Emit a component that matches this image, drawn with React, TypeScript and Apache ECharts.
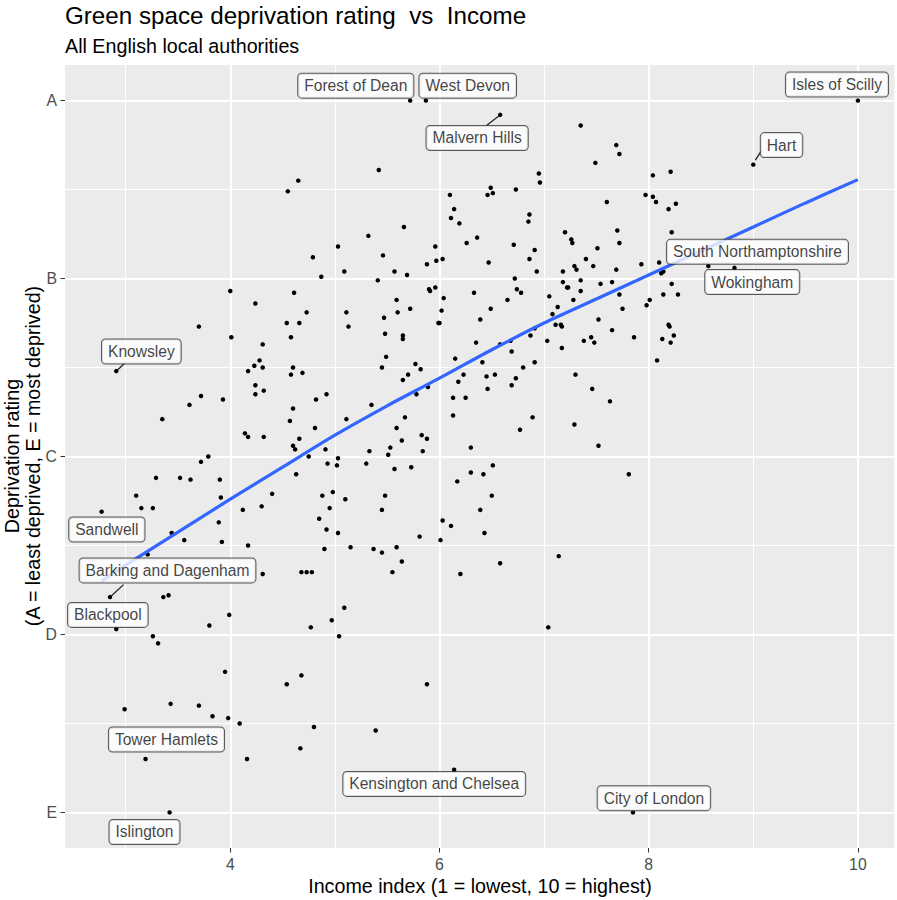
import React, { useEffect, useRef } from "react";
import * as echarts from "echarts";

// ---------- data ----------
const incomeTicks = [4, 6, 8, 10];
const ratingValues = [1, 2, 3, 4, 5];
const ratingLetters = ["E", "D", "C", "B", "A"];

// [income index, deprivation rating (E = 1 ... A = 5)]
const authorities: [number, number][] = [
  [4.65, 4.55], [4.55, 4.49], [5.03, 4.18], [4.79, 4.12], [4.87, 4.01], [4.0, 3.93], [4.61, 3.92], [4.24, 3.86],
  [4.73, 3.81], [4.54, 3.75], [4.66, 3.75], [3.7, 3.73],
  [4.01, 3.67], [4.58, 3.67], [4.31, 3.63], [4.28, 3.54], [4.23, 3.51], [4.31, 3.5], [4.17, 3.48], [4.6, 3.5],
  [4.58, 3.46], [4.69, 3.47], [4.24, 3.4], [4.32, 3.37], [4.24, 3.35], [3.72, 3.34], [3.93, 3.32], [3.61, 3.29],
  [4.82, 3.32], [4.92, 3.35], [4.6, 3.27], [3.35, 3.21], [4.57, 3.2], [4.81, 3.16], [4.14, 3.13], [4.17, 3.11],
  [4.32, 3.11], [4.66, 3.1], [4.6, 3.06], [4.62, 3.04], [4.91, 3.04], [3.79, 3.0], [3.72, 2.97], [4.75, 3.0],
  [5.03, 2.99], [4.93, 2.96], [5.02, 2.95], [4.63, 2.9], [3.29, 2.88], [3.52, 2.88], [3.62, 2.87], [3.9, 2.87],
  [3.1, 2.78], [3.91, 2.77], [4.4, 2.79], [4.98, 2.8], [4.88, 2.78], [3.15, 2.71], [3.26, 2.71], [2.77, 2.69],
  [4.12, 2.7], [4.3, 2.72], [4.95, 2.71], [3.89, 2.63], [4.85, 2.65], [4.92, 2.59], [5.03, 2.57], [3.44, 2.57],
  [3.56, 2.53], [3.92, 2.52], [4.17, 2.5], [4.9, 2.48], [3.21, 2.45], [4.31, 2.34], [4.68, 2.35], [4.73, 2.35],
  [4.78, 2.35], [2.91, 3.48],
  [2.85, 2.21], [3.36, 2.21], [3.41, 2.22], [3.99, 2.11], [3.8, 2.05], [2.91, 2.03], [4.77, 2.04], [4.97, 2.08],
  [5.04, 1.99], [3.26, 1.99], [3.31, 1.95], [3.95, 1.79], [4.68, 1.77], [4.54, 1.72], [2.99, 1.58], [3.43, 1.61],
  [3.7, 1.6], [3.83, 1.54], [3.98, 1.53], [4.09, 1.5], [4.8, 1.48], [4.67, 1.36], [3.19, 1.3], [4.16, 1.3],
  [3.42, 1.0], [5.09, 2.15], [7.04, 2.04], [5.88, 1.72], [5.39, 1.46], [6.14, 1.24], [7.85, 1.0],
  [5.13, 3.73], [5.48, 3.69], [5.65, 3.68], [5.65, 3.66], [5.99, 3.75], [6.0, 3.75], [6.39, 3.77], [6.35, 3.64],
  [5.49, 3.56], [5.45, 3.5], [5.77, 3.52], [5.82, 3.49], [5.65, 3.43], [5.7, 3.46], [6.15, 3.55], [6.41, 3.53],
  [6.23, 3.46], [6.18, 3.42], [6.45, 3.45], [6.53, 3.46], [6.46, 3.38], [5.89, 3.39], [5.78, 3.35], [6.13, 3.33],
  [6.25, 3.33], [5.35, 3.29], [5.11, 3.21], [5.67, 3.22], [6.13, 3.23], [5.59, 3.16], [5.83, 3.12], [5.88, 3.1],
  [5.64, 3.09], [5.53, 3.05], [5.33, 3.03], [5.51, 3.01], [5.84, 3.03], [6.3, 3.05], [5.3, 2.96], [5.57, 2.93],
  [5.73, 2.94], [6.51, 2.95], [6.3, 2.91], [6.42, 2.9], [6.17, 2.86], [5.1, 2.76], [5.48, 2.78], [5.45, 2.7],
  [6.5, 2.78], [6.39, 2.7], [6.03, 2.64], [6.11, 2.61], [6.43, 2.57], [5.81, 2.55], [6.01, 2.53], [5.15, 2.49],
  [5.37, 2.48], [5.45, 2.46], [5.59, 2.49], [5.64, 2.41], [5.55, 2.35], [6.2, 2.34], [6.58, 2.4], [7.14, 2.44],
  [6.68, 3.65], [6.69, 3.59], [6.58, 3.63], [6.87, 3.68], [6.91, 3.72], [7.03, 3.65], [7.11, 3.74], [7.16, 3.74],
  [7.17, 3.73], [7.17, 3.61], [7.52, 3.77], [7.38, 3.65], [7.45, 3.67], [7.48, 3.64], [6.91, 3.53], [6.8, 3.5],
  [6.73, 3.44], [6.69, 3.4], [7.3, 3.46], [7.46, 3.38], [7.63, 3.31], [6.89, 3.22], [6.77, 3.15], [7.29, 3.18],
  [7.52, 3.06],
  [7.65, 3.71], [7.86, 3.67], [8.19, 3.74], [8.2, 3.73], [8.24, 3.68], [8.13, 3.66], [8.21, 3.64], [8.08, 3.54],
  [7.81, 2.9],
  [5.72, 5.0], [5.87, 5.0], [6.58, 4.92], [7.35, 4.86], [7.49, 4.65], [5.42, 4.61], [6.95, 4.59], [6.96, 4.54],
  [6.49, 4.51], [6.46, 4.47], [6.51, 4.48], [6.73, 4.5], [6.1, 4.47], [7.6, 4.43], [6.14, 4.39], [6.11, 4.34],
  [6.19, 4.31], [6.86, 4.36], [6.85, 4.32], [5.66, 4.29], [5.32, 4.24], [7.2, 4.26], [7.26, 4.22], [7.27, 4.2],
  [5.96, 4.18], [6.26, 4.2], [6.36, 4.23], [6.71, 4.19], [7.51, 4.17], [5.46, 4.13], [6.91, 4.16], [5.97, 4.1],
  [6.03, 4.11], [5.88, 4.08], [6.47, 4.09], [6.86, 4.11], [7.4, 4.11], [7.47, 4.07], [7.29, 4.07], [7.31, 4.05],
  [5.09, 4.04], [5.57, 4.04], [5.69, 4.02], [6.93, 4.04], [7.18, 4.04], [5.41, 3.99], [6.72, 4.0], [7.35, 3.99],
  [7.54, 3.97], [7.18, 3.98], [7.22, 3.95], [7.23, 3.95], [7.35, 3.93], [5.9, 3.94], [5.91, 3.93], [5.96, 3.95],
  [6.74, 3.94], [6.78, 3.92], [6.33, 3.92], [7.05, 3.9], [6.04, 3.89], [5.59, 3.88], [5.6, 3.81], [5.72, 3.83],
  [6.65, 3.88], [7.28, 3.88], [7.13, 3.84], [6.49, 3.83], [6.02, 3.82], [5.11, 3.81], [5.47, 3.78], [7.08, 3.8],
  [10.0, 5.0], [9.0, 4.64], [7.69, 4.75], [7.72, 4.7], [8.04, 4.58], [8.21, 4.6], [7.97, 4.47], [8.04, 4.46],
  [8.07, 4.43], [8.19, 4.39], [8.26, 4.42], [7.7, 4.27], [8.22, 4.26], [7.72, 4.2], [7.93, 4.08], [8.1, 4.09],
  [8.12, 4.03], [8.14, 4.04], [8.57, 4.07], [8.82, 4.06], [7.69, 4.05], [7.65, 3.98], [8.22, 3.97], [7.72, 3.91],
  [8.14, 3.91], [8.28, 3.91], [8.01, 3.88], [7.98, 3.85], [7.75, 3.83],
];

// loess smooth
const smoothIncome = [2.77, 3.0, 3.5, 4.0, 4.5, 5.0, 5.5, 6.0, 6.5, 7.0, 7.5, 8.0, 8.5, 9.0, 9.5, 10.0];
const smoothRating = [2.3, 2.39, 2.575, 2.76, 2.94, 3.12, 3.285, 3.44, 3.6, 3.75, 3.885, 4.02, 4.155, 4.29, 4.425, 4.556];

const labelledNames = [
  "Forest of Dean", "West Devon", "Malvern Hills", "Isles of Scilly", "Hart", "South Northamptonshire",
  "Wokingham", "Knowsley", "Sandwell", "Barking and Dagenham", "Blackpool", "Tower Hamlets", "Islington",
  "Kensington and Chelsea", "City of London",
];

// ---------- layout (label box centres and leader lines, in axis units) ----------
const labelPlacement: [number, number][] = [
  [5.2, 5.084], [6.27, 5.084], [6.36, 4.79], [9.8, 5.09], [9.27, 4.75], [9.04, 4.15],
  [8.99, 3.98], [3.15, 3.59], [2.82, 2.59], [3.4, 2.36], [2.83, 2.11], [3.39, 1.41], [3.18, 0.89],
  [5.95, 1.16], [8.05, 1.08],
];
const leaderLines: [number, number][][] = [
  [[6.45, 4.86], [6.57, 4.915]],
  [[9.08, 4.72], [9.02, 4.665]],
  [[3.0, 3.53], [2.92, 3.485]],
  [[2.98, 2.28], [2.86, 2.215]],
];

const FONT = "'Liberation Sans', Arial, Helvetica, sans-serif";
const X_MIN = 2.42;
const X_MAX = 10.35;
const Y_MIN = 0.8;
const Y_MAX = 5.2;

export default function App() {
  const ref = useRef<HTMLDivElement>(null);

  useEffect(() => {
    if (!ref.current) return;
    const chart = echarts.init(ref.current, null, { renderer: "svg" });

    const gridLine = (axis: "xAxis" | "yAxis", v: number, major: boolean) => ({
      [axis]: v,
      lineStyle: { color: "#ffffff", width: major ? 2 : 1, type: "solid", opacity: 1 },
    });
    const minorX = [3, 5, 7, 9];
    const minorY = [1.5, 2.5, 3.5, 4.5];

    const option: any = {
      animation: false,
      backgroundColor: "#ffffff",
      title: {
        text: "Green space deprivation rating  vs  Income",
        subtext: "All English local authorities",
        left: 65,
        top: 3,
        padding: 0,
        itemGap: 9,
        textStyle: { fontSize: 24.2, fontWeight: "normal", color: "#000", fontFamily: FONT },
        subtextStyle: { fontSize: 19.7, color: "#000", fontFamily: FONT },
      },
      grid: {
        left: 65,
        right: 2.5,
        top: 65,
        bottom: 52,
        show: true,
        backgroundColor: "#EBEBEB",
        borderWidth: 0,
      },
      xAxis: {
        type: "value",
        min: X_MIN,
        max: X_MAX,
        splitLine: { show: false },
        axisLine: { show: false },
        axisTick: { show: true, length: 4.5, customValues: incomeTicks, lineStyle: { color: "#333333", width: 1 } },
        axisLabel: {
          customValues: incomeTicks,
          margin: 8,
          fontSize: 15.8,
          color: "#4D4D4D",
          fontFamily: FONT,
        },
      },
      yAxis: {
        type: "value",
        min: Y_MIN,
        max: Y_MAX,
        splitLine: { show: false },
        axisLine: { show: false },
        axisTick: { show: true, length: 4.5, customValues: ratingValues, lineStyle: { color: "#333333", width: 1 } },
        axisLabel: {
          customValues: ratingValues,
          margin: 8,
          fontSize: 15.8,
          color: "#4D4D4D",
          fontFamily: FONT,
          formatter: (v: number) => ratingLetters[Math.round(v) - 1] ?? "",
        },
      },
      graphic: [
        {
          type: "text",
          x: 480,
          y: 886,
          style: {
            text: "Income index (1 = lowest, 10 = highest)",
            fontSize: 19.7,
            fontFamily: FONT,
            fill: "#000",
            align: "center",
            verticalAlign: "middle",
          },
        },
        {
          type: "text",
          x: 22,
          y: 456,
          rotation: Math.PI / 2,
          style: {
            text: "Deprivation rating\n(A = least deprived, E = most deprived)",
            fontSize: 19.7,
            lineHeight: 21,
            fontFamily: FONT,
            fill: "#000",
            align: "center",
            verticalAlign: "middle",
          },
        },
      ],
      series: [
        {
          type: "scatter",
          name: "grid",
          data: [],
          silent: true,
          z: 1,
          markLine: {
            silent: true,
            z: 1,
            symbol: ["none", "none"],
            label: { show: false },
            emphasis: { disabled: true },
            data: [
              ...minorX.map((v) => gridLine("xAxis", v, false)),
              ...minorY.map((v) => gridLine("yAxis", v, false)),
              ...incomeTicks.map((v) => gridLine("xAxis", v, true)),
              ...ratingValues.map((v) => gridLine("yAxis", v, true)),
            ],
          },
        },
        {
          type: "scatter",
          name: "Local authorities",
          data: authorities,
          symbolSize: 4.5,
          itemStyle: { color: "#000000", opacity: 1 },
          silent: true,
          z: 3,
        },
        {
          type: "line",
          name: "loess",
          data: smoothIncome.map((x, i) => [x, smoothRating[i]]),
          smooth: 0.3,
          showSymbol: false,
          symbol: "none",
          lineStyle: { color: "#3366FF", width: 3.2 },
          silent: true,
          z: 4,
        },
        {
          type: "lines",
          coordinateSystem: "cartesian2d",
          data: leaderLines.map((c) => ({ coords: c })),
          lineStyle: { color: "#222222", width: 1.3, opacity: 1 },
          silent: true,
          z: 5,
        },
        {
          type: "scatter",
          name: "labels",
          data: labelPlacement.map((c, i) => ({ value: c, name: labelledNames[i] })),
          symbolSize: 1,
          itemStyle: { color: "rgba(0,0,0,0)" },
          silent: true,
          z: 10,
          label: {
            show: true,
            position: "inside",
            formatter: "{b}",
            fontSize: 15.6,
            fontFamily: FONT,
            color: "#111",
            backgroundColor: "#ffffff",
            borderColor: "#333333",
            borderWidth: 1,
            borderRadius: 3.5,
            padding: [4, 6, 4, 6],
          },
        },
      ],
    };

    chart.setOption(option);
    return () => chart.dispose();
  }, []);

  return (
    <div
      ref={ref}
      style={{ position: "absolute", left: 0, top: 0, width: 897, height: 900 }}
    />
  );
}
